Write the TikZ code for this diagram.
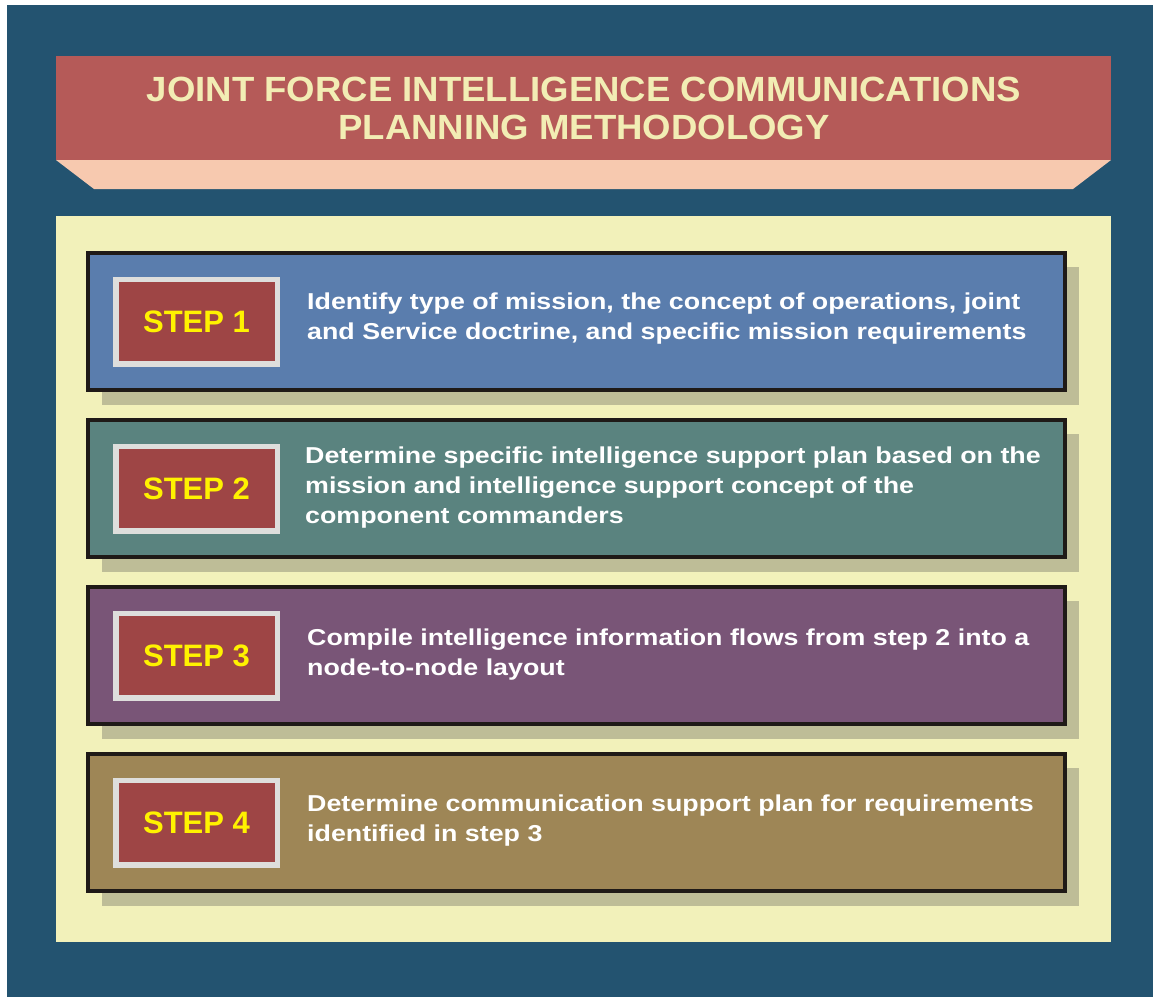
\documentclass[tikz,border=0pt]{standalone}
\usepackage{fontspec}
\setmainfont{Liberation Sans}
\newfontfamily\stepfont[FakeStretch=1.165]{Liberation Sans}
\newfontfamily\titlefont[FakeStretch=1.044]{Liberation Sans}
\definecolor{bgblue}{HTML}{235370}
\definecolor{titlered}{HTML}{B55A58}
\definecolor{titlepink}{HTML}{F7C9AF}
\definecolor{titletxt}{HTML}{F2EDB4}
\definecolor{panel}{HTML}{F2F1BA}
\definecolor{shadowc}{HTML}{BEBD97}
\definecolor{s1c}{HTML}{5A7DAD}
\definecolor{s2c}{HTML}{5A837F}
\definecolor{s3c}{HTML}{795577}
\definecolor{s4c}{HTML}{9E8656}
\definecolor{labred}{HTML}{9E4545}
\definecolor{labgray}{HTML}{DEDEDC}
\definecolor{boxblack}{HTML}{1F1A17}
\definecolor{stepyellow}{HTML}{FFF200}
\tikzset{
  stepbox/.style={draw=boxblack, line width=4pt, minimum width=977, minimum height=137, inner sep=0pt},
  labelbox/.style={draw=labgray, fill=labred, line width=5.5pt, minimum width=161.5, minimum height=84.5, inner sep=0pt,
    text=stepyellow, font=\fontsize{31}{31}\selectfont\bfseries},
  steptext/.style={anchor=west, align=left, inner sep=0pt, text=white, font=\stepfont\fontsize{23}{30}\selectfont\bfseries},
  titletext/.style={align=center, inner sep=0pt, text=titletxt, font=\titlefont\fontsize{35}{38}\selectfont\bfseries}
}
\begin{document}
\begin{tikzpicture}[x=1pt,y=-1pt]
\useasboundingbox (0,0) rectangle (1153,997);
\fill[white] (0,0) rectangle (1153,997);
\fill[bgblue] (7,5) rectangle (1153,997);
% title
\fill[titlepink] (56,160) -- (1111,160) -- (1073,189) -- (94,189) -- cycle;
\node[fill=titlered, minimum width=1055, minimum height=104, inner sep=0pt] (title) at (583.5,108) {};
\node[titletext] (titlet) at (584,108.5) {JOINT FORCE INTELLIGENCE COMMUNICATIONS\\PLANNING METHODOLOGY};
% panel
\fill[panel] (56,216) rectangle (1111,942);
% step 1
\fill[shadowc] (102,267) rectangle (1079,405);
\node[stepbox, fill=s1c] (s1) at (576.5,321.5) {};
\node[labelbox] (l1) at (196.5,321.5) {STEP 1};
\node[steptext] (t1) at (307,319) {Identify type of mission, the concept of operations, joint\\and Service doctrine, and specific mission requirements};
% step 2
\fill[shadowc] (102,434) rectangle (1079,572);
\node[stepbox, fill=s2c] (s2) at (576.5,488.5) {};
\node[labelbox] (l2) at (196.5,488.5) {STEP 2};
\node[steptext] (t2) at (305,488) {Determine specific intelligence support plan based on the\\mission and intelligence support concept of the\\component commanders};
% step 3
\fill[shadowc] (102,601) rectangle (1079,739);
\node[stepbox, fill=s3c] (s3) at (576.5,655.5) {};
\node[labelbox] (l3) at (196.5,655.5) {STEP 3};
\node[steptext] (t3) at (307,655) {Compile intelligence information flows from step 2 into a\\node-to-node layout};
% step 4
\fill[shadowc] (102,768) rectangle (1079,906);
\node[stepbox, fill=s4c] (s4) at (576.5,822.5) {};
\node[labelbox] (l4) at (196.5,822.5) {STEP 4};
\node[steptext] (t4) at (307,821) {Determine communication support plan for requirements\\identified in step 3};
\end{tikzpicture}
\end{document}
